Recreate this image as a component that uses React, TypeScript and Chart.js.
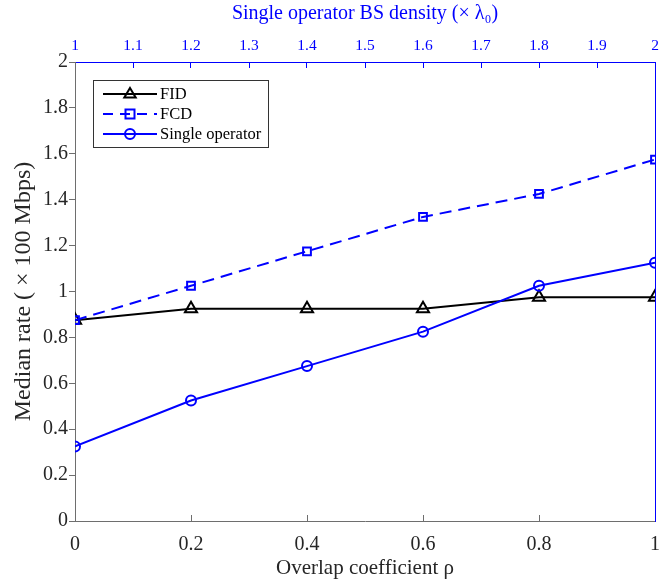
import React, { useEffect, useRef } from "react";
import { Chart, registerables } from "chart.js";

Chart.register(...registerables);

const rhoValues = [0, 0.2, 0.4, 0.6, 0.8, 1];
const fidValues = [0.875, 0.925, 0.925, 0.925, 0.975, 0.975];
const fcdValues = [0.875, 1.025, 1.175, 1.325, 1.425, 1.575];
const singleValues = [0.325, 0.525, 0.675, 0.825, 1.025, 1.125];
const legendLabels = ["FID", "FCD", "Single operator"];

const FONT = "'Liberation Serif', 'Times New Roman', serif";
const AXIS_GRAY = "#6e6e6e";
const TEXT_GRAY = "#262626";
const BLUE = "#0000ff";

const toPoints = (ys: number[]) => rhoValues.map((x, i) => ({ x, y: ys[i] }));

function drawMarker(ctx: CanvasRenderingContext2D, style: string, x: number, y: number, color: string) {
  ctx.save();
  ctx.strokeStyle = color;
  ctx.lineWidth = 2;
  ctx.setLineDash([]);
  ctx.beginPath();
  if (style === "triangle") {
    const r = 6;
    ctx.moveTo(x, y - r);
    ctx.lineTo(x + r * 0.95, y + r * 0.6);
    ctx.lineTo(x - r * 0.95, y + r * 0.6);
    ctx.closePath();
  } else if (style === "rect") {
    ctx.rect(x - 4.5, y - 4.5, 9, 9);
  } else {
    ctx.arc(x, y, 5, 0, Math.PI * 2);
  }
  ctx.stroke();
  ctx.restore();
}

const legendPlugin = {
  id: "boxLegend",
  afterDatasetsDraw(chart: any) {
    const ctx: CanvasRenderingContext2D = chart.ctx;
    const left = 93, top = 80, w = 175, h = 67;
    ctx.save();
    ctx.fillStyle = "#ffffff";
    ctx.fillRect(left, top, w, h);
    ctx.strokeStyle = "#333333";
    ctx.lineWidth = 1;
    ctx.strokeRect(left + 0.5, top + 0.5, w, h);
    const entries = [
      { color: "#000000", dash: [] as number[], style: "triangle" },
      { color: BLUE, dash: [10, 7], style: "rect" },
      { color: BLUE, dash: [] as number[], style: "circle" },
    ];
    entries.forEach((e, i) => {
      const y = top + 14 + i * 20;
      ctx.save();
      ctx.strokeStyle = e.color;
      ctx.lineWidth = 2;
      ctx.setLineDash(e.dash);
      ctx.beginPath();
      ctx.moveTo(103, y);
      ctx.lineTo(157, y);
      ctx.stroke();
      ctx.restore();
      drawMarker(ctx, e.style, 130, y, e.color);
      ctx.fillStyle = "#000000";
      ctx.font = `16.5px ${FONT}`;
      ctx.textBaseline = "middle";
      ctx.textAlign = "left";
      ctx.fillText(legendLabels[i], 160, y + 1);
    });
    ctx.restore();
  },
};

const fitX = (h: number) => (s: any) => {
  s.height = h;
  s.paddingLeft = 0;
  s.paddingRight = 0;
};
const fitY = (w: number) => (s: any) => {
  s.width = w;
  s.paddingTop = 0;
  s.paddingBottom = 0;
};
const fmt = (v: any) => String(Math.round(v * 10) / 10);

export default function App() {
  const ref = useRef<HTMLCanvasElement | null>(null);
  useEffect(() => {
    if (!ref.current) return;
    const chart = new Chart(ref.current, {
      type: "line",
      data: {
        datasets: [
          {
            label: legendLabels[0],
            data: toPoints(fidValues),
            borderColor: "#000000",
            borderWidth: 2,
            pointStyle: "triangle",
            pointRadius: 7,
            pointBorderWidth: 2,
            pointBorderColor: "#000000",
            pointBackgroundColor: "rgba(0,0,0,0)",
            order: 3,
            xAxisID: "x",
            yAxisID: "y",
          },
          {
            label: legendLabels[1],
            data: toPoints(fcdValues),
            borderColor: BLUE,
            borderWidth: 2,
            borderDash: [12, 7],
            pointStyle: "rect",
            pointRadius: 5.5,
            pointBorderWidth: 2,
            pointBorderColor: BLUE,
            pointBackgroundColor: "rgba(0,0,0,0)",
            order: 2,
            xAxisID: "x",
            yAxisID: "y",
          },
          {
            label: legendLabels[2],
            data: toPoints(singleValues),
            borderColor: BLUE,
            borderWidth: 2,
            pointStyle: "circle",
            pointRadius: 5,
            pointBorderWidth: 2,
            pointBorderColor: BLUE,
            pointBackgroundColor: "rgba(0,0,0,0)",
            order: 1,
            xAxisID: "x",
            yAxisID: "y",
          },
        ],
      },
      options: {
        animation: false,
        responsive: false,
        devicePixelRatio: 1,
        layout: { padding: 0, autoPadding: false },
        plugins: { legend: { display: false }, tooltip: { enabled: false } },
        elements: { line: { tension: 0 } },
        scales: {
          x: {
            type: "linear",
            position: "bottom",
            min: 0,
            max: 1,
            afterFit: fitX(63),
            afterBuildTicks: (s: any) => { s.ticks = rhoValues.map((v) => ({ value: v })); },
            ticks: {
              padding: 18,
              color: TEXT_GRAY,
              font: { family: FONT, size: 20 },
              maxRotation: 0,
              callback: fmt,
            },
            grid: { drawOnChartArea: false, drawTicks: true, tickLength: -6, color: AXIS_GRAY },
            border: { display: true, color: AXIS_GRAY, width: 1 },
            title: {
              display: true,
              text: "Overlap coefficient ρ",
              color: TEXT_GRAY,
              font: { family: FONT, size: 21 },
              padding: { top: 0, bottom: 3 },
            },
          },
          x2: {
            type: "linear",
            position: "top",
            min: 1,
            max: 2,
            afterFit: fitX(62),
            ticks: {
              stepSize: 0.1,
              padding: 13,
              color: BLUE,
              font: { family: FONT, size: 15.5 },
              maxRotation: 0,
              autoSkip: false,
              callback: fmt,
            },
            grid: { drawOnChartArea: false, drawTicks: true, tickLength: -6, color: BLUE },
            border: { display: true, color: BLUE, width: 1 },
            title: {
              display: true,
              text: "Single operator BS density (× λ₀)",
              color: BLUE,
              font: { family: FONT, size: 20 },
              padding: { top: 2, bottom: 0 },
            },
          },
          y: {
            type: "linear",
            position: "left",
            min: 0,
            max: 2,
            afterFit: fitY(75),
            ticks: {
              stepSize: 0.2,
              padding: 1,
              color: TEXT_GRAY,
              font: { family: FONT, size: 20 },
              callback: fmt,
            },
            grid: { drawOnChartArea: false, drawTicks: true, tickLength: 6, color: AXIS_GRAY },
            border: { display: true, color: AXIS_GRAY, width: 1 },
            title: {
              display: true,
              text: "Median rate ( × 100 Mbps)",
              color: TEXT_GRAY,
              font: { family: FONT, size: 24 },
              padding: { top: 9, bottom: 0 },
            },
          },
          y2: {
            type: "linear",
            position: "right",
            min: 0,
            max: 2,
            afterFit: fitY(4),
            ticks: { display: false },
            grid: { drawOnChartArea: false, drawTicks: false },
            border: { display: true, color: BLUE, width: 1 },
          },
        },
      },
      plugins: [legendPlugin],
    } as any);
    return () => chart.destroy();
  }, []);
  return (
    <div style={{ position: "fixed", left: 0, top: 0, width: 659, height: 584, background: "#fff" }}>
      <canvas ref={ref} width={659} height={584} style={{ width: 659, height: 584 }} />
    </div>
  );
}
